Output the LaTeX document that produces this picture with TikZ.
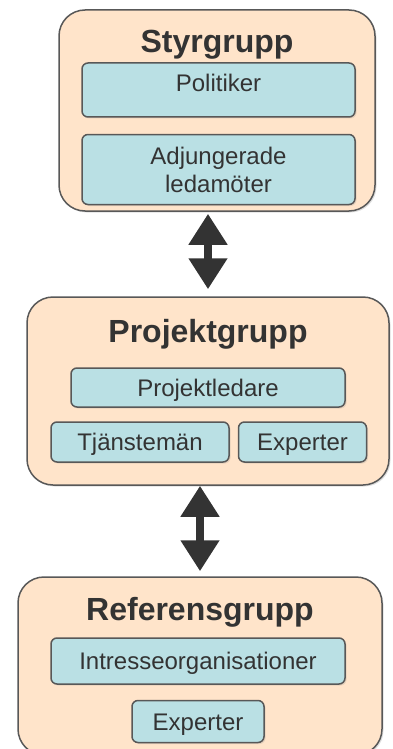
\documentclass[tikz,border=0pt]{standalone}
\usepackage{fontspec}
\setmainfont{Liberation Sans}
\usetikzlibrary{arrows.meta, positioning, shadows}
\definecolor{peach}{RGB}{255,228,202}
\definecolor{paleblue}{RGB}{186,224,228}
\definecolor{edgegray}{RGB}{88,88,88}
\definecolor{inkgray}{RGB}{51,51,51}
\tikzset{
  group/.style={
    rectangle, rounded corners=26pt, draw=edgegray, line width=1.5pt, fill=peach,
    drop shadow={shadow xshift=1.5pt,shadow yshift=-1.5pt,opacity=0.25}
  },
  member/.style={
    rectangle, rounded corners=6pt, draw=edgegray, line width=1.5pt, fill=paleblue,
    text=inkgray, font=\fontsize{24}{28}\selectfont, align=center, inner sep=0pt,
    text height=17pt, text depth=0pt,
    drop shadow={shadow xshift=1.5pt,shadow yshift=-1.5pt,opacity=0.2}
  },
  heading/.style={
    font=\bfseries\fontsize{32}{36}\selectfont, text=inkgray, inner sep=0pt, anchor=base
  },
  link/.style={
    {Triangle[width=37pt,length=31pt]}-{Triangle[width=37pt,length=31pt]},
    line width=8pt, color=inkgray
  }
}

\begin{document}
\begin{tikzpicture}[x=1pt, y=-1pt]
\useasboundingbox (0,0) rectangle (393,749);

% styrgrupp
\node[group, minimum width=316pt, minimum height=201pt] (styr) at (217,110.5) {};
\node[heading] (styrtitle) at (217,53) {Styrgrupp};
\node[member, minimum width=273pt, minimum height=54pt, text depth=13pt] (politiker) at (218.5,90) {Politiker};
\node[member, minimum width=273pt, minimum height=70pt, text height=45pt, below=16pt of politiker] (adjung) {Adjungerade\\ ledamöter};

% projektgrupp
\node[group, minimum width=362pt, minimum height=188pt] (proj) at (208,391) {};
\node[heading] (projtitle) at (208,342) {Projektgrupp};
\node[member, minimum width=274pt, minimum height=39pt] (ledare) at (208,387.5) {Projektledare};
\node[member, minimum width=178pt, minimum height=40pt] (tjanst) at (140,442) {Tjänstemän};
\node[member, minimum width=128pt, minimum height=40pt, right=8pt of tjanst] (projexp) {Experter};

% referensgrupp
\node[group, minimum width=364pt, minimum height=178pt] (ref) at (200,666) {};
\node[heading] (reftitle) at (200,620) {Referensgrupp};
\node[member, minimum width=294pt, minimum height=46pt] (intresse) at (198,661) {Intresseorganisationer};
\node[member, minimum width=132pt, minimum height=42pt, below=15pt of intresse] (refexp) {Experter};

\draw[link, shorten <=2pt, shorten >=7pt] (proj.north |- styr.south) -- (proj.north);
\draw[link, shorten >=5pt] (ref.north |- proj.south) -- (ref.north);

\end{tikzpicture}
\end{document}
